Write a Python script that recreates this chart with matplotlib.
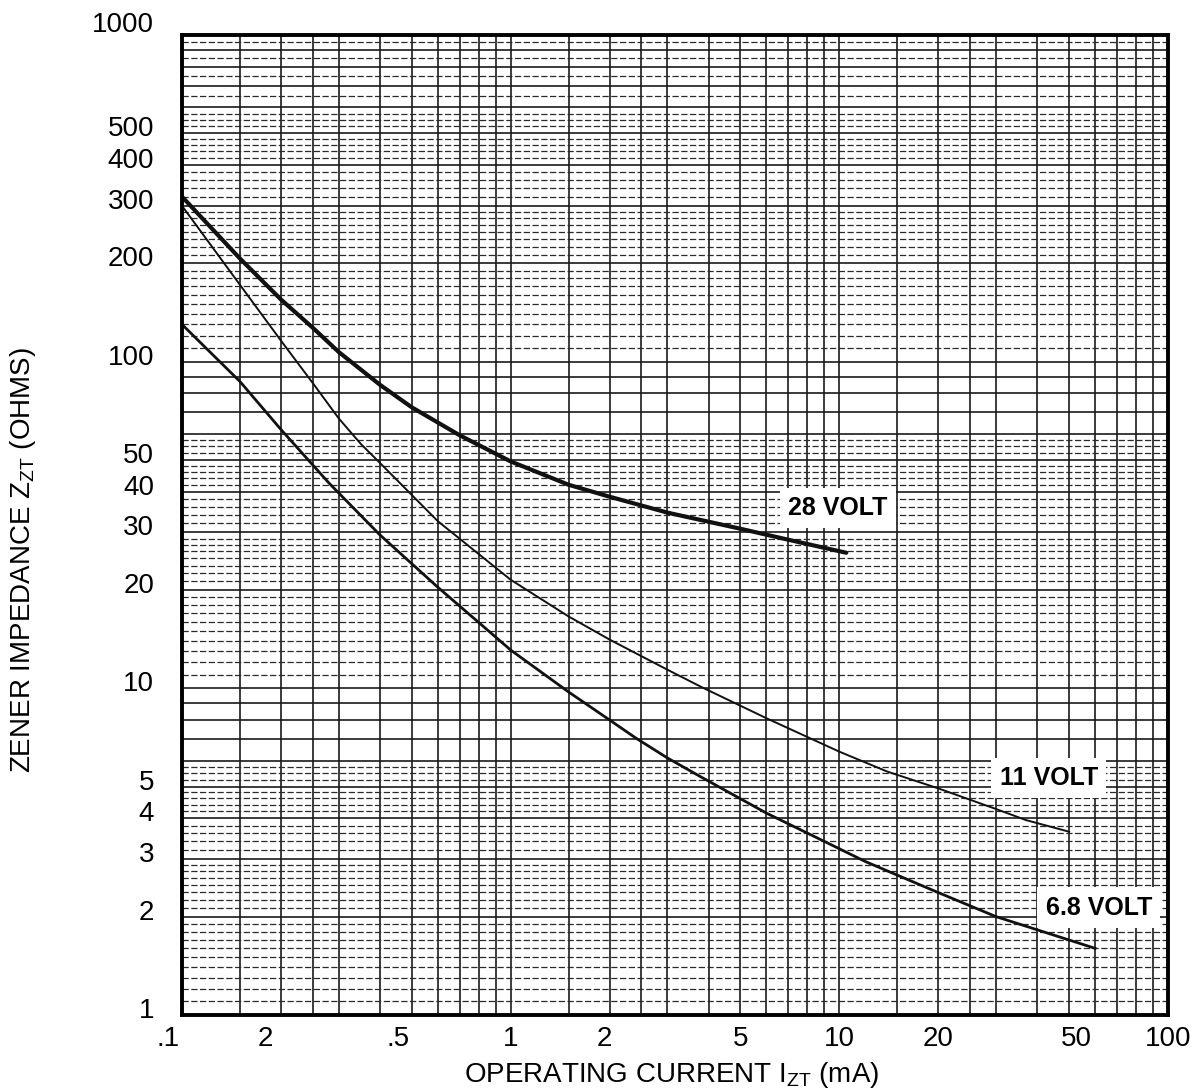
import numpy as np
import matplotlib
matplotlib.use('Agg')
import matplotlib.pyplot as plt
from matplotlib.transforms import ScaledTranslation

plt.rcParams['font.family'] = ['Liberation Sans', 'DejaVu Sans']

# operating current (mA) vs zener impedance (ohms)
i_28v = [0.1, 0.15, 0.2, 0.25, 0.3, 0.4, 0.5, 0.7, 1, 1.5, 2, 3, 5, 7, 10.5]
z_28v = [320, 207, 155, 127, 107, 85, 72.5, 59.5, 49.5, 42, 38.6, 34.5, 30.8, 28.5, 26.0]

i_11v = [0.1, 0.15, 0.2, 0.25, 0.3, 0.35, 0.4, 0.6, 1, 1.5, 2, 3, 3.8, 6, 10, 14, 20, 30, 37, 50]
z_11v = [300, 172, 116, 86, 67, 56, 49, 32.5, 21.5, 16.6, 14.1, 11.4, 10.1, 8.1, 6.4, 5.56, 4.94, 4.27, 3.95, 3.64]

i_68v = [0.1, 0.15, 0.2, 0.28, 0.4, 0.6, 0.8, 1, 1.5, 2, 2.4, 3, 3.8, 6, 9, 12, 20, 30, 60]
z_68v = [130, 87, 62, 42.5, 29.5, 20.4, 15.9, 13.1, 9.75, 8.0, 7.05, 6.12, 5.35, 4.15, 3.4, 2.95, 2.37, 2.0, 1.6]

x_ticks = [0.1, 0.2, 0.5, 1, 2, 5, 10, 20, 50, 100]
x_ticklabels = ['.1', '2', '.5', '1', '2', '5', '10', '20', '50', '100']
y_ticks = [1, 2, 3, 4, 5, 10, 20, 30, 40, 50, 100, 200, 300, 400, 500, 1000]
y_ticklabels = [str(v) for v in y_ticks]

fig = plt.figure(figsize=(11.96, 10.90), dpi=100)
ax = fig.add_axes([182 / 1196, 1 - 1015 / 1090, 986 / 1196, 980 / 1090])
ax.set_xscale('log')
ax.set_yscale('log')
ax.set_xlim(0.1, 100)
ax.set_ylim(1, 1000)

# log paper grid
vert = [1, 1.5, 2, 2.5, 3, 4, 5, 6, 7, 8, 9]
for d in [0.1, 1, 10]:
    for m in vert:
        ax.axvline(d * m, color='#1a1a1a', lw=1.2, zorder=1)

subs = list(np.arange(1.1, 1.95, 0.1)) + list(np.arange(2.125, 2.95, 0.125)) \
    + list(np.arange(3.2, 3.9, 0.2)) + list(np.arange(4.2, 4.9, 0.2)) + [5.25, 5.5, 5.75]
top_subs = [6.5, 7.5, 8.5, 9.5]
for d in [1, 10, 100]:
    for m in range(1, 10):
        ax.axhline(d * m, color='#1a1a1a', lw=1.2, zorder=1)
    extra = top_subs if d == 100 else []
    for m in subs + extra:
        ax.axhline(d * m, color='#2a2a2a', lw=0.9, ls=(0, (5, 2)), zorder=1)

ax.plot(i_28v, z_28v, color='#111111', lw=3.0, zorder=3, solid_capstyle='round')
ax.plot(i_11v, z_11v, color='#111111', lw=1.4, zorder=3)
ax.plot(i_68v, z_68v, color='#111111', lw=2.0, zorder=3)

box = dict(facecolor='white', edgecolor='none', pad=6)
ax.text(9.9, 35.6, '28 VOLT', fontsize=18, fontweight='bold', ha='center',
        va='center', bbox=box, zorder=4)
ax.text(43.4, 5.31, '11 VOLT', fontsize=18, fontweight='bold', ha='center',
        va='center', bbox=box, zorder=4)
ax.text(61.6, 2.13, '6.8 VOLT', fontsize=18, fontweight='bold', ha='center',
        va='center', bbox=box, zorder=4)

ax.set_xticks(x_ticks)
ax.set_xticklabels(x_ticklabels)
ax.set_yticks(y_ticks)
ax.set_yticklabels(y_ticklabels)
ax.minorticks_off()
ax.tick_params(length=0, labelsize=20)
ax.tick_params(axis='x', pad=8)
ax.tick_params(axis='y', pad=20)

# nudge tick labels the way the printed sheet has them
for lab in ax.get_yticklabels():
    dy = 13 if lab.get_text() == '1000' else 7
    lab.set_transform(lab.get_transform() + ScaledTranslation(0, dy / 100, fig.dpi_scale_trans))
x_nudge = {0: -14, 1: -16, 2: -14, 4: -5, 8: 7}
for k, lab in enumerate(ax.get_xticklabels()):
    dx = x_nudge.get(k, 0)
    lab.set_transform(lab.get_transform() + ScaledTranslation(dx / 100, 0, fig.dpi_scale_trans))

for s in ax.spines.values():
    s.set_linewidth(2.8)
    s.set_zorder(5)

ax.set_xlabel(r'OPERATING CURRENT I$_{\mathregular{ZT}}$ (mA)', fontsize=20, va='top')
ax.set_ylabel(r'ZENER IMPEDANCE Z$_{\mathregular{ZT}}$ (OHMS)', fontsize=20)
ax.xaxis.set_label_coords((672 - 182) / 986, (1015 - 1060) / 980)
ax.yaxis.set_label_coords((38 - 182) / 986, (1015 - 560) / 980)

fig.savefig('out.png', dpi=100)
